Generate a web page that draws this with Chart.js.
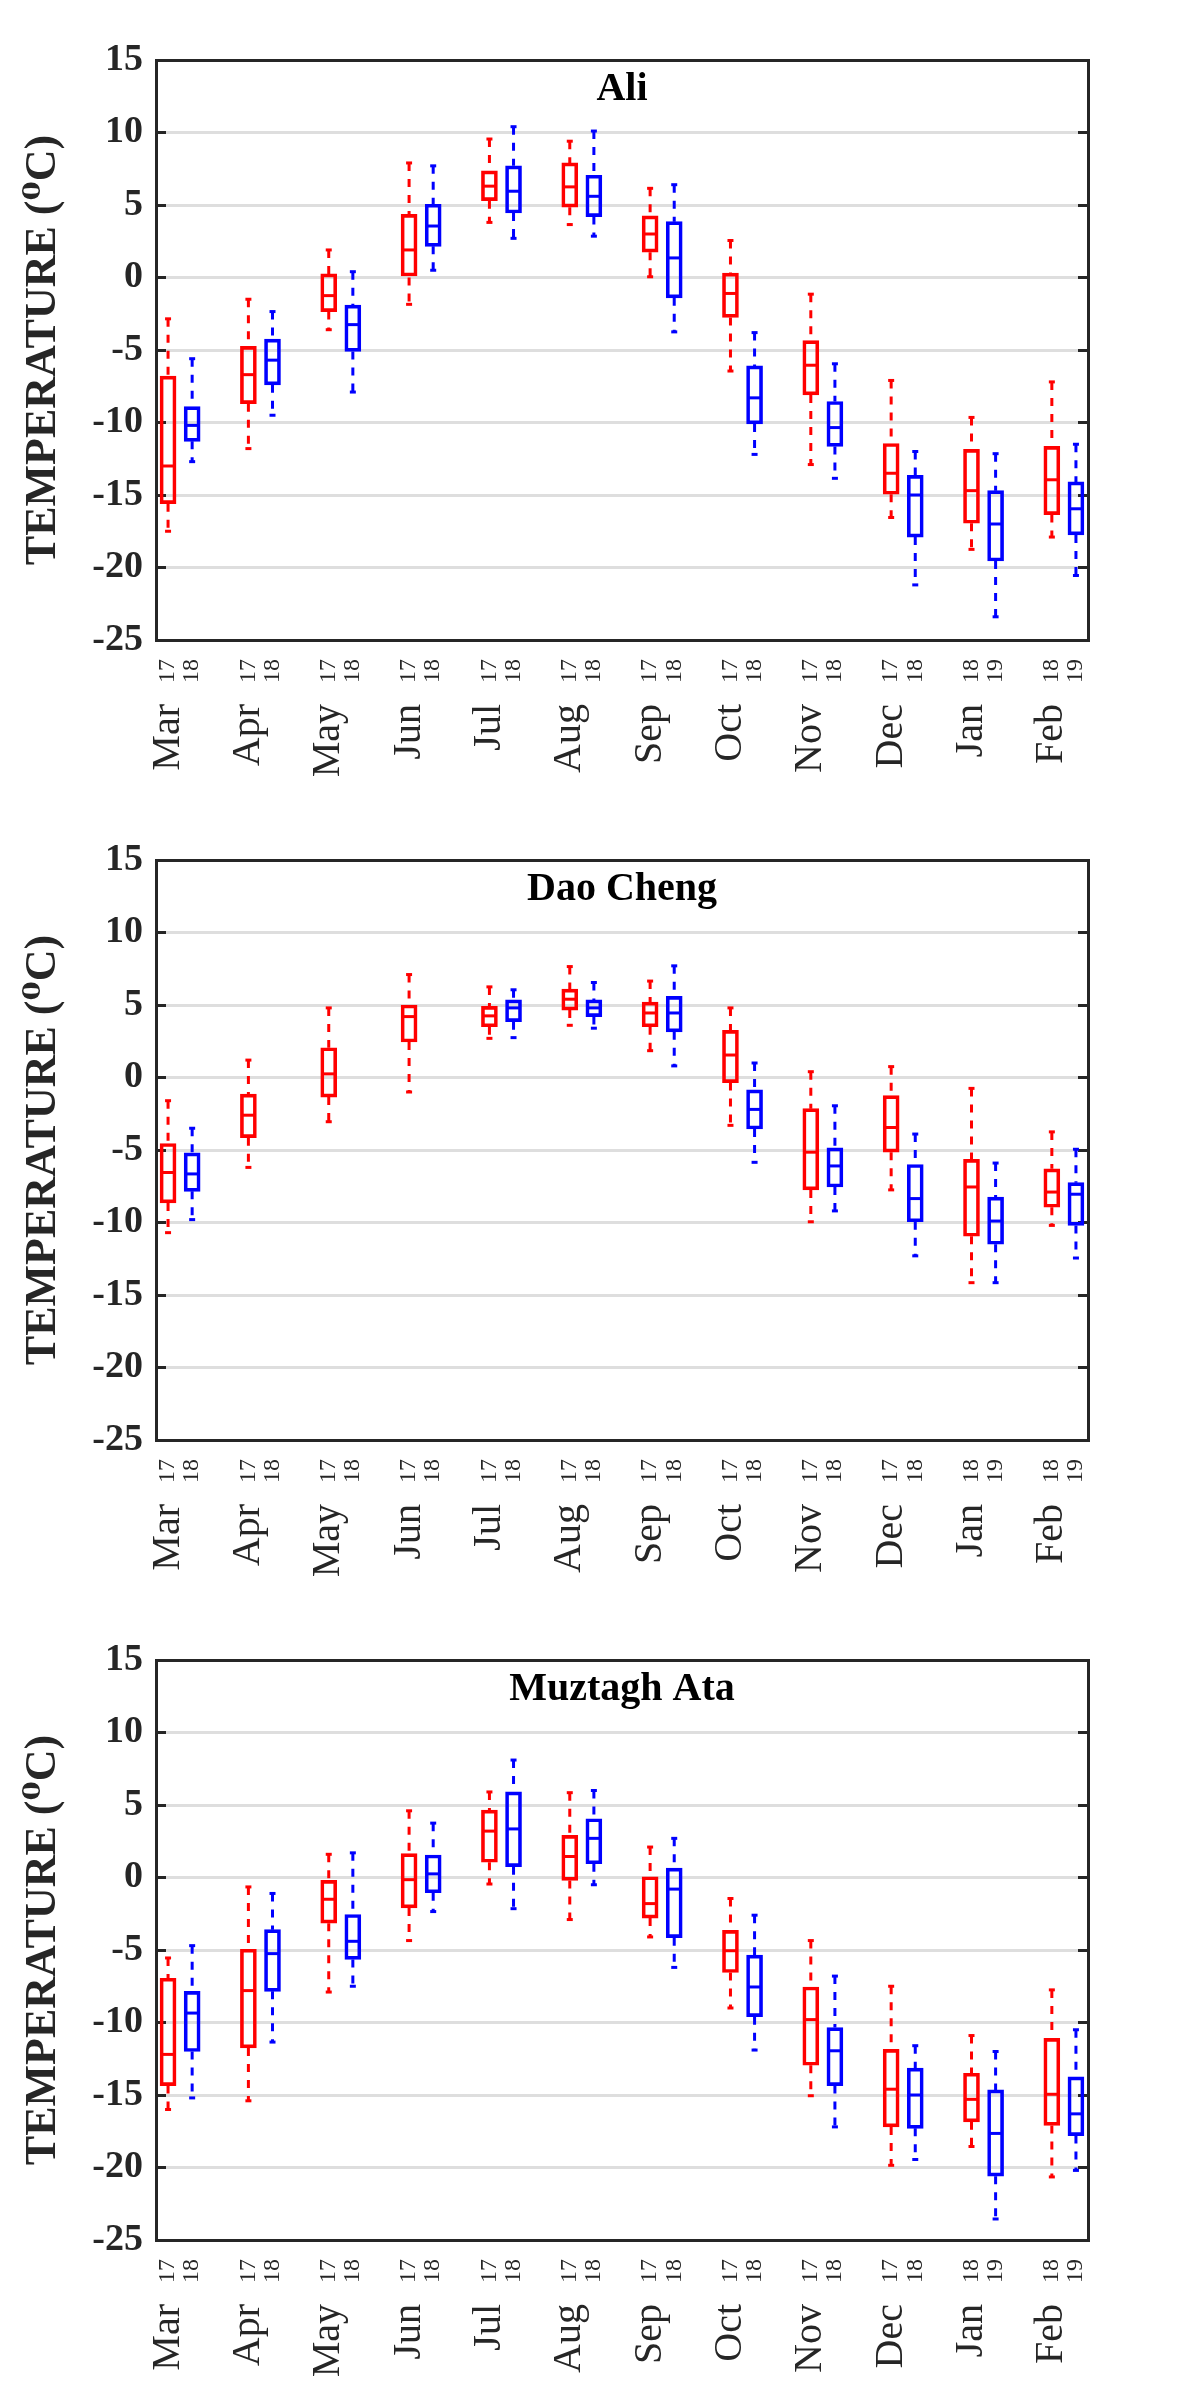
<!DOCTYPE html>
<html>
<head>
<meta charset="utf-8">
<title>Monthly temperature boxplots</title>
<script src="https://cdn.jsdelivr.net/npm/chart.js@4.4.1/dist/chart.umd.min.js"></script>
<style>
  body { margin: 0; background: #fff; }
  .panel { width: 1200px; height: 800px; }
</style>
</head>
<body>
<div class="panel"><canvas id="ali" width="1200" height="800"></canvas></div>
<div class="panel"><canvas id="daocheng" width="1200" height="800"></canvas></div>
<div class="panel"><canvas id="muztagh" width="1200" height="800"></canvas></div>

<script>
const months = ['Mar', 'Apr', 'May', 'Jun', 'Jul', 'Aug', 'Sep', 'Oct', 'Nov', 'Dec', 'Jan', 'Feb'];
const firstYear = ['17', '17', '17', '17', '17', '17', '17', '17', '17', '17', '18', '18'];
const secondYear = ['18', '18', '18', '18', '18', '18', '18', '18', '18', '18', '19', '19'];

// each row: [min, q1, median, q3, max], null = no data
const aliFirst = [
  [-17.5, -15.6, -13.0, -6.8, -2.85],
  [-11.8, -8.7, -6.7, -4.75, -1.5],
  [-3.6, -2.35, -1.25, 0.25, 1.9],
  [-1.85, 0.0, 1.9, 4.35, 7.9],
  [3.8, 5.3, 6.3, 7.35, 9.55],
  [3.65, 4.85, 6.25, 7.9, 9.4],
  [0.05, 1.75, 3.0, 4.25, 6.15],
  [-6.45, -2.75, -1.1, 0.3, 2.55],
  [-12.9, -8.1, -6.05, -4.35, -1.15],
  [-16.55, -14.95, -13.5, -11.45, -7.1],
  [-18.75, -16.95, -14.7, -11.85, -9.65],
  [-17.9, -16.35, -13.95, -11.65, -7.2]
];
const aliSecond = [
  [-12.7, -11.3, -10.2, -8.9, -5.6],
  [-9.5, -7.4, -5.7, -4.25, -2.35],
  [-7.9, -5.1, -3.25, -1.9, 0.4],
  [0.5, 2.15, 3.55, 5.05, 7.7],
  [2.7, 4.45, 5.95, 7.7, 10.4],
  [2.85, 4.2, 5.6, 7.05, 10.1],
  [-3.75, -1.4, 1.35, 3.85, 6.4],
  [-12.2, -10.1, -8.3, -6.1, -3.8],
  [-13.85, -11.65, -10.35, -8.55, -5.95],
  [-21.2, -17.9, -15.0, -13.65, -12.0],
  [-23.4, -19.55, -17.0, -14.7, -12.15],
  [-20.55, -17.75, -15.95, -14.1, -11.5]
];
const daoFirst = [
  [-10.7, -8.65, -6.55, -4.55, -1.6],
  [-6.2, -4.15, -2.6, -1.15, 1.2],
  [-3.05, -1.35, 0.25, 2.05, 4.8],
  [-1.0, 2.45, 4.2, 5.0, 7.1],
  [2.7, 3.5, 4.25, 4.9, 6.25],
  [3.6, 4.65, 5.4, 6.1, 7.65],
  [1.85, 3.5, 4.45, 5.2, 6.65],
  [-3.3, -0.35, 1.55, 3.25, 4.8],
  [-9.95, -7.75, -5.15, -2.15, 0.4],
  [-7.75, -5.15, -3.45, -1.25, 0.75],
  [-14.15, -10.95, -7.55, -5.65, -0.75],
  [-10.2, -8.95, -7.9, -6.3, -3.75]
];
const daoSecond = [
  [-9.8, -7.85, -6.65, -5.2, -3.5],
  null,
  null,
  null,
  [2.75, 3.85, 4.8, 5.35, 6.05],
  [3.4, 4.2, 4.8, 5.35, 6.55],
  [0.8, 3.15, 4.45, 5.6, 7.7],
  [-5.85, -3.55, -2.2, -0.85, 1.0],
  [-9.2, -7.55, -6.1, -4.85, -1.95],
  [-12.3, -9.95, -8.35, -6.0, -3.9],
  [-14.15, -11.5, -9.9, -8.25, -5.9],
  [-12.45, -10.2, -8.05, -7.25, -4.95]
];
const muzFirst = [
  [-16.0, -14.35, -12.2, -6.95, -5.55],
  [-15.4, -11.75, -7.8, -4.95, -0.65],
  [-7.9, -3.15, -1.5, -0.2, 1.6],
  [-4.35, -2.1, -0.15, 1.65, 4.6],
  [-0.45, 1.05, 3.2, 4.65, 5.9],
  [-2.9, -0.2, 1.45, 2.9, 5.85],
  [-4.1, -2.8, -1.8, 0.05, 2.1],
  [-9.0, -6.55, -5.05, -3.65, -1.45],
  [-15.05, -12.95, -9.8, -7.55, -4.35],
  [-19.85, -17.2, -14.6, -11.85, -7.5],
  [-18.55, -16.85, -15.3, -13.5, -10.9],
  [-20.65, -17.1, -14.95, -11.1, -7.75]
];
const muzSecond = [
  [-15.2, -12.0, -9.35, -7.85, -4.7],
  [-11.35, -7.85, -5.25, -3.6, -1.1],
  [-7.5, -5.65, -4.4, -2.55, 1.7],
  [-2.35, -1.05, 0.25, 1.55, 3.75],
  [-2.15, 0.75, 3.35, 5.9, 8.1],
  [-0.5, 0.95, 2.7, 4.05, 6.0],
  [-6.2, -4.15, -0.8, 0.65, 2.7],
  [-11.9, -9.6, -7.55, -5.35, -2.6],
  [-17.2, -14.35, -11.95, -10.35, -6.8],
  [-19.45, -17.3, -15.0, -13.15, -11.6],
  [-23.55, -20.6, -17.65, -14.65, -12.0],
  [-20.2, -17.8, -16.3, -13.75, -10.5]
];

const FONT = "'Liberation Serif', 'DejaVu Serif', serif";
const INK = '#262626';
const RED = '#ff0000';
const BLUE = '#0000ff';
const SHIFT = 0.15;

const redPos = months.map((m, i) => i + 1 - SHIFT);
const bluePos = months.map((m, i) => i + 1 + SHIFT);
const tickPos = [];
const tickText = [];
months.forEach((m, i) => {
  tickPos.push(redPos[i], bluePos[i]);
  tickText.push(firstYear[i], secondYear[i]);
});

// whiskers, box, median and caps for one year of one station
const boxSets = (rows, pos, color) => {
  const whiskers = [];
  const boxes = [];
  const medians = [];
  const caps = [];
  rows.forEach((r, i) => {
    if (!r) return;
    const x = pos[i];
    whiskers.push({ x, y: r[4] }, { x, y: r[3] }, { x, y: null }, { x, y: r[1] }, { x, y: r[0] }, { x, y: null });
    boxes.push({ x, y: [r[1], r[3]] });
    medians.push({ x, y: r[2] });
    caps.push({ x, y: r[0] }, { x, y: r[4] });
  });
  return [
    {
      type: 'line', data: whiskers, borderColor: color, borderWidth: 3, borderDash: [8, 8],
      pointRadius: 0, spanGaps: false, order: 4
    },
    {
      type: 'bar', data: boxes, borderColor: color, backgroundColor: 'rgba(0,0,0,0)', borderWidth: 3,
      borderSkipped: false, grouped: false, barThickness: 16, maxBarThickness: 16, order: 3
    },
    {
      type: 'scatter', data: medians, pointStyle: 'line', pointRadius: 7, pointBorderWidth: 3,
      pointBorderColor: color, borderColor: color, order: 2
    },
    {
      type: 'scatter', data: caps, pointStyle: 'line', pointRadius: 3, pointBorderWidth: 3,
      pointBorderColor: color, borderColor: color, order: 1
    }
  ];
};

const drawPanel = (id, name, first, second) => {
  new Chart(document.getElementById(id), {
    type: 'bar',
    data: {
      datasets: [...boxSets(first, redPos, RED), ...boxSets(second, bluePos, BLUE)]
    },
    options: {
      responsive: false,
      devicePixelRatio: 1,
      animation: false,
      events: [],
      layout: { padding: 0 },
      plugins: { legend: { display: false }, tooltip: { enabled: false } },
      scales: {
        x: {
          type: 'linear', position: 'bottom', min: 0.7, max: 12.3, offset: false,
          afterBuildTicks: (s) => { s.ticks = tickPos.map(v => ({ value: v })); },
          afterFit: (s) => { s.height = 45; },
          grid: { display: false, drawTicks: false, offset: false },
          border: { display: true, color: INK, width: 3 },
          ticks: {
            autoSkip: false, minRotation: 90, maxRotation: 90, padding: 19, color: INK,
            font: { family: FONT, size: 24 },
            callback: (v, i) => tickText[i]
          }
        },
        xm: {
          type: 'linear', axis: 'x', position: 'bottom', min: 0.7, max: 12.3, offset: false,
          afterBuildTicks: (s) => { s.ticks = redPos.map(v => ({ value: v })); },
          afterFit: (s) => { s.height = 115; },
          grid: { display: false, drawTicks: false },
          border: { display: false },
          ticks: {
            autoSkip: false, minRotation: 90, maxRotation: 90, padding: 19, color: INK,
            font: { family: FONT, size: 40 },
            callback: (v, i) => months[i]
          }
        },
        xt: {
          type: 'linear', axis: 'x', position: 'top', min: 0.7, max: 12.3, offset: false,
          afterFit: (s) => { s.height = 60; },
          grid: { display: false, drawTicks: false },
          border: { display: true, color: INK, width: 3 },
          ticks: { display: false },
          title: {
            display: true, text: name, color: '#000',
            font: { family: FONT, size: 40, weight: 'bold' },
            padding: { top: 66, bottom: 0 }
          }
        },
        y: {
          type: 'linear', position: 'left', min: -25, max: 15,
          afterFit: (s) => { s.width = 156; },
          grid: { color: '#dedede', lineWidth: 3, tickColor: INK, tickWidth: 3, tickLength: -10 },
          border: { color: INK, width: 3 },
          ticks: { stepSize: 5, padding: 23, color: INK, font: { family: FONT, size: 38, weight: 'bold' } },
          title: {
            display: true, text: 'TEMPERATURE (\u2070C)', color: INK,
            font: { family: FONT, size: 44, weight: 'bold' },
            padding: { top: 17, bottom: 0 }
          }
        },
        yr: {
          type: 'linear', axis: 'y', position: 'right', min: -25, max: 15,
          afterFit: (s) => { s.width = 112; },
          grid: { drawOnChartArea: false, tickColor: INK, tickWidth: 3, tickLength: -10 },
          border: { color: INK, width: 3 },
          ticks: { display: false, stepSize: 5 }
        }
      }
    }
  });
};

drawPanel('ali', 'Ali', aliFirst, aliSecond);
drawPanel('daocheng', 'Dao Cheng', daoFirst, daoSecond);
drawPanel('muztagh', 'Muztagh Ata', muzFirst, muzSecond);
</script>
</body>
</html>
